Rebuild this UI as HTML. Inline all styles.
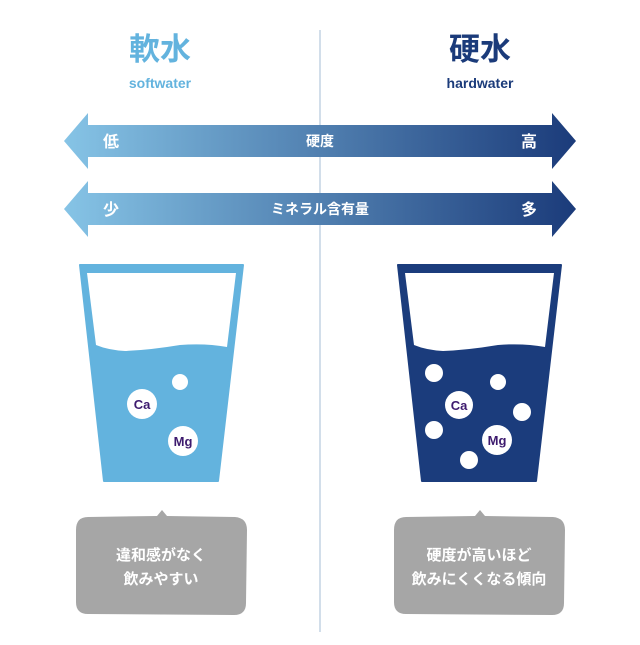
<!DOCTYPE html>
<html><head><meta charset="utf-8"><style>
body{margin:0;width:640px;height:640px;background:#fff;overflow:hidden}
</style></head><body>
<svg width="640" height="640" xmlns="http://www.w3.org/2000/svg" font-family="'Liberation Sans','Noto Sans CJK JP',sans-serif">
<defs><linearGradient id="g" x1="0" x2="1"><stop offset="0" stop-color="#86c4e6"/><stop offset="1" stop-color="#1b3b7a"/></linearGradient></defs>
<line x1="320" y1="30" x2="320" y2="632" stroke="#c3d3e3" stroke-width="1.5"/>
<text x="160" y="60" text-anchor="middle" font-size="31" font-weight="bold" fill="#63b3de">軟水</text>
<text x="160" y="88" text-anchor="middle" font-size="14" font-weight="bold" fill="#63b3de">softwater</text>
<text x="480" y="60" text-anchor="middle" font-size="31" font-weight="bold" fill="#1b3b7a">硬水</text>
<text x="480" y="88" text-anchor="middle" font-size="14" font-weight="bold" fill="#1b3b7a">hardwater</text>
<polygon points="64,141 88,113 88,125 552,125 552,113 576,141 552,169 552,157 88,157 88,169" fill="url(#g)"/>
<polygon points="64,209 88,181 88,193 552,193 552,181 576,209 552,237 552,225 88,225 88,237" fill="url(#g)"/>
<g fill="#fff" font-size="16" font-weight="bold" text-anchor="middle">
<text x="111" y="147">低</text><text x="320" y="146" font-size="14">硬度</text><text x="529" y="147">高</text>
<text x="111" y="215">少</text><text x="320" y="214" font-size="14">ミネラル含有量</text><text x="529" y="215">多</text>
</g>
<path d="M80,265 L243,265 L218,481 L104,481 Z" fill="#63b3de" stroke="#63b3de" stroke-width="2" stroke-linejoin="round"/>
<path d="M87,273 L236,273 L227,347 Q205,343 180,345 Q150,350 125,351 Q108,350 96,345 Z" fill="#fff"/>
<circle cx="180" cy="382" r="8" fill="#fff"/>
<circle cx="142" cy="404" r="15" fill="#fff"/><circle cx="183" cy="441" r="15" fill="#fff"/>
<path d="M398,265 L561,265 L536,481 L422,481 Z" fill="#1b3c7c" stroke="#1b3c7c" stroke-width="2" stroke-linejoin="round"/>
<path d="M405,273 L554,273 L545,347 Q523,343 498,345 Q468,350 443,351 Q426,350 414,345 Z" fill="#fff"/>
<g fill="#fff"><circle cx="434" cy="373" r="9"/><circle cx="498" cy="382" r="8"/><circle cx="459" cy="405" r="14"/><circle cx="522" cy="412" r="9"/><circle cx="434" cy="430" r="9"/><circle cx="497" cy="440" r="15"/><circle cx="469" cy="460" r="9"/></g>
<g fill="#3d1a6e" font-size="13" font-weight="bold" text-anchor="middle">
<text x="142" y="409">Ca</text><text x="183" y="446">Mg</text><text x="459" y="410">Ca</text><text x="497" y="445">Mg</text></g>
<path d="M88,517 L157,516 L162,510 L167,516 L235,517 Q247,518 247,530 L246,603 Q246,615 234,615 L88,614 Q76,614 76,602 L76,530 Q76,517 88,517 Z" fill="#a6a6a6"/>
<path d="M406,517 L475,516 L480,510 L485,516 L553,517 Q565,518 565,530 L564,603 Q564,615 552,615 L406,614 Q394,614 394,602 L394,530 Q394,517 406,517 Z" fill="#a6a6a6"/>
<g fill="#fff" font-size="15" font-weight="bold" text-anchor="middle">
<text x="161" y="560">違和感がなく</text><text x="161" y="584">飲みやすい</text>
<text x="479" y="560">硬度が高いほど</text><text x="479" y="584">飲みにくくなる傾向</text></g>
</svg>
</body></html>
